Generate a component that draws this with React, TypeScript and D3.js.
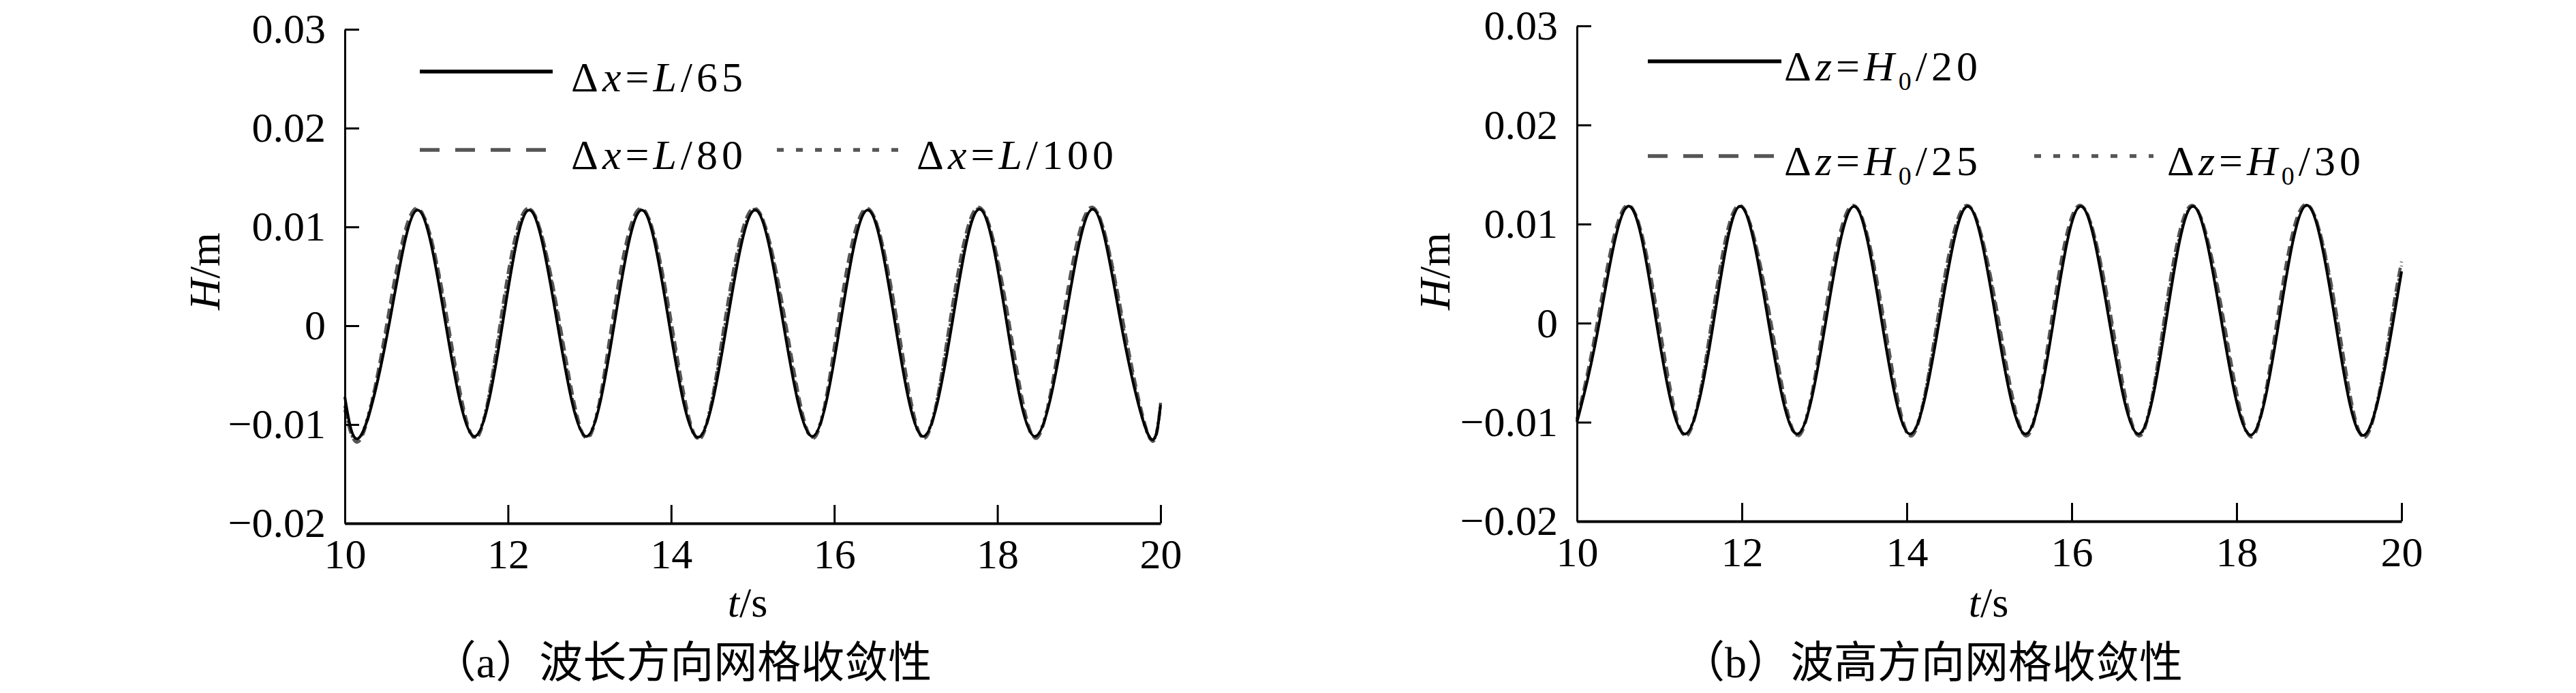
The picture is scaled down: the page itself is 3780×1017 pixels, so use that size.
import React, { useRef, useEffect } from 'react';
import * as d3 from 'd3';

type Pt = [number, number];

// axis ranges and ticks
const timeDomain: [number, number] = [10, 20];
const hDomain: [number, number] = [-0.02, 0.03];
const timeTicks = [10, 12, 14, 16, 18, 20];
const hTicks = [-0.02, -0.01, 0, 0.01, 0.02, 0.03];

// (a) wave length direction: troughs, zero crossings, crests
const waveL65: Pt[] = [
  [10.0, -0.0072], [10.19, -0.0112], [10.54, 0], [10.89, 0.0117], [11.24, 0],
  [11.59, -0.0112], [11.93, 0], [12.26, 0.0117], [12.61, 0],
  [12.96, -0.0112], [13.3, 0], [13.64, 0.0117], [13.98, 0],
  [14.33, -0.0113], [14.68, 0], [15.03, 0.0117], [15.38, 0],
  [15.73, -0.0112], [16.07, 0], [16.41, 0.0117], [16.75, 0],
  [17.09, -0.0112], [17.44, 0], [17.78, 0.0118], [18.12, 0],
  [18.46, -0.0112], [18.82, 0], [19.17, 0.0118], [19.52, 0],
  [19.86, -0.0112], [20.0, -0.008],
];
const waveL80: Pt[] = [
  [10.0, -0.0085], [10.2, -0.0114], [10.51, 0], [10.88, 0.0119], [11.27, 0],
  [11.6, -0.0114], [11.9, 0], [12.25, 0.0119], [12.64, 0],
  [12.97, -0.0114], [13.27, 0], [13.63, 0.0119], [14.01, 0],
  [14.34, -0.0115], [14.65, 0], [15.02, 0.0119], [15.41, 0],
  [15.74, -0.0114], [16.04, 0], [16.4, 0.0119], [16.78, 0],
  [17.1, -0.0114], [17.41, 0], [17.77, 0.012], [18.15, 0],
  [18.47, -0.0114], [18.79, 0], [19.16, 0.012], [19.55, 0],
  [19.87, -0.0114], [20.0, -0.0078],
];
const waveL100: Pt[] = [
  [10.0, -0.0081], [10.19, -0.0113], [10.52, 0], [10.89, 0.0118], [11.26, 0],
  [11.59, -0.0113], [11.91, 0], [12.26, 0.0118], [12.63, 0],
  [12.96, -0.0113], [13.28, 0], [13.64, 0.0118], [14.0, 0],
  [14.33, -0.0114], [14.66, 0], [15.03, 0.0118], [15.4, 0],
  [15.73, -0.0113], [16.05, 0], [16.41, 0.0118], [16.77, 0],
  [17.09, -0.0113], [17.42, 0], [17.78, 0.0119], [18.14, 0],
  [18.46, -0.0113], [18.8, 0], [19.17, 0.0119], [19.54, 0],
  [19.86, -0.0113], [20.0, -0.0079],
];

// (b) wave height direction
const waveH20: Pt[] = [
  [10.0, -0.01], [10.27, 0], [10.62, 0.0118], [10.965, 0],
  [11.31, -0.0112], [11.655, 0], [11.98, 0.0118], [12.325, 0],
  [12.67, -0.0112], [13.015, 0], [13.36, 0.0118], [13.7, 0],
  [14.04, -0.0112], [14.39, 0], [14.74, 0.0118], [15.09, 0],
  [15.44, -0.0112], [15.775, 0], [16.11, 0.0118], [16.46, 0],
  [16.81, -0.0112], [17.14, 0], [17.47, 0.0118], [17.82, 0],
  [18.17, -0.0113], [18.51, 0], [18.85, 0.0119], [19.2, 0],
  [19.55, -0.0113], [19.895, 0], [20.0, 0.0052],
];
const waveH25: Pt[] = [
  [10.0, -0.0097], [10.245, 0], [10.61, 0.0119], [10.995, 0],
  [11.32, -0.0114], [11.63, 0], [11.97, 0.0119], [12.355, 0],
  [12.68, -0.0114], [12.99, 0], [13.35, 0.0119], [13.73, 0],
  [14.05, -0.0114], [14.365, 0], [14.73, 0.0119], [15.12, 0],
  [15.45, -0.0114], [15.75, 0], [16.1, 0.0119], [16.49, 0],
  [16.82, -0.0114], [17.115, 0], [17.46, 0.0119], [17.85, 0],
  [18.18, -0.0115], [18.485, 0], [18.84, 0.012], [19.23, 0],
  [19.56, -0.0115], [19.87, 0], [20.0, 0.0062],
];
const waveH30: Pt[] = [
  [10.0, -0.0098], [10.255, 0], [10.62, 0.0118], [10.985, 0],
  [11.31, -0.0113], [11.64, 0], [11.98, 0.0118], [12.345, 0],
  [12.67, -0.0113], [13.0, 0], [13.36, 0.0118], [13.72, 0],
  [14.04, -0.0113], [14.375, 0], [14.74, 0.0118], [15.11, 0],
  [15.44, -0.0113], [15.76, 0], [16.11, 0.0118], [16.48, 0],
  [16.81, -0.0113], [17.125, 0], [17.47, 0.0118], [17.84, 0],
  [18.17, -0.0114], [18.495, 0], [18.85, 0.0119], [19.22, 0],
  [19.55, -0.0114], [19.88, 0], [20.0, 0.0058],
];

const legendA = ['65', '80', '100'];
const legendB = ['20', '25', '30'];
const captionA = '（a）波长方向网格收敛性';
const captionB = '（b）波高方向网格收敛性';

const SERIF = "'Liberation Serif', 'Times New Roman', serif";
const CJK = "'Liberation Serif', 'Noto Sans CJK SC', serif";
const GRAY = '#555555';

const lineStyles = [
  { stroke: '#000', width: 4, dash: null as string | null },
  { stroke: GRAY, width: 4.5, dash: '14,8' },
  { stroke: GRAY, width: 4.5, dash: '4,7' },
];
const legendDash = [null, '29,23', '10,18'];

type Frame = {
  left: number; right: number; top: number; bottom: number;
  ylabelX: number; tlabelX: number; captionX: number;
  legend: { x1: number; x2: number; y: number; tx: number; base: number }[];
};

const frameA: Frame = {
  left: 506, right: 1703, top: 43, bottom: 768,
  ylabelX: 300, tlabelX: 1097, captionX: 1001,
  legend: [
    { x1: 616, x2: 811, y: 105, tx: 838, base: 134 },
    { x1: 616, x2: 803, y: 220, tx: 838, base: 248 },
    { x1: 1140, x2: 1320, y: 220, tx: 1345, base: 248 },
  ],
};
const frameB: Frame = {
  left: 2314, right: 3524, top: 38, bottom: 765,
  ylabelX: 2105, tlabelX: 2918, captionX: 2835,
  legend: [
    { x1: 2418, x2: 2614, y: 90, tx: 2618, base: 118 },
    { x1: 2418, x2: 2614, y: 229, tx: 2618, base: 257 },
    { x1: 2985, x2: 3160, y: 229, tx: 3180, base: 257 },
  ],
};

function Panel({ frame, series, legend, kind, caption }: {
  frame: Frame; series: Pt[][]; legend: string[]; kind: 'a' | 'b'; caption: string;
}) {
  const ref = useRef<SVGGElement>(null);

  useEffect(() => {
    const g = d3.select(ref.current);
    g.selectAll('*').remove();

    const x = d3.scaleLinear().domain(timeDomain).range([frame.left, frame.right]);
    const y = d3.scaleLinear().domain(hDomain).range([frame.bottom, frame.top]);

    const line = d3.line<Pt>()
      .x(d => x(d[0]))
      .y(d => y(d[1]))
      .curve(d3.curveNatural);

    // gray curves first, solid black on top
    [2, 1, 0].forEach(i => {
      const s = lineStyles[i];
      g.append('path')
        .attr('d', line(series[i]))
        .attr('fill', 'none')
        .attr('stroke', s.stroke)
        .attr('stroke-width', s.width)
        .attr('stroke-dasharray', s.dash)
        .attr('stroke-linejoin', 'round');
    });

    const fmtY = (d: number) => (d === 0 ? '0' : d3.format('.2f')(d));

    const yAxis = g.append('g')
      .attr('transform', `translate(${frame.left},0)`)
      .call(d3.axisLeft(y).tickValues(hTicks).tickFormat(fmtY as any)
        .tickSizeInner(-21).tickSizeOuter(0).tickPadding(28));
    yAxis.select('.domain').attr('stroke-width', 3);
    yAxis.selectAll('.tick line').attr('stroke-width', 3);
    yAxis.selectAll('text')
      .attr('font-family', SERIF).attr('font-size', 62).attr('fill', '#000');

    const xAxis = g.append('g')
      .attr('transform', `translate(0,${frame.bottom})`)
      .call(d3.axisBottom(x).tickValues(timeTicks).tickFormat(d3.format('d') as any)
        .tickSizeInner(-27).tickSizeOuter(0).tickPadding(22));
    xAxis.select('.domain').attr('stroke-width', 4);
    xAxis.selectAll('.tick line').attr('stroke-width', 3);
    xAxis.selectAll('text')
      .attr('font-family', SERIF).attr('font-size', 62).attr('fill', '#000');
    g.selectAll('.domain, .tick line').attr('stroke', '#000');

    // legend
    frame.legend.forEach((p, i) => {
      const s = lineStyles[i];
      g.append('line')
        .attr('x1', p.x1).attr('x2', p.x2).attr('y1', p.y).attr('y2', p.y)
        .attr('stroke', s.stroke).attr('stroke-width', 5.5)
        .attr('stroke-dasharray', legendDash[i]);
      const t = g.append('text')
        .attr('x', p.tx).attr('y', p.base)
        .attr('font-family', SERIF).attr('font-size', 62)
        .attr('letter-spacing', 6).attr('fill', '#000');
      t.append('tspan').text('Δ');
      t.append('tspan').attr('font-style', 'italic').text(kind === 'a' ? 'x' : 'z');
      t.append('tspan').text('=');
      t.append('tspan').attr('font-style', 'italic').text(kind === 'a' ? 'L' : 'H');
      if (kind === 'b') {
        t.append('tspan').attr('font-size', 38).attr('dy', 14).text('0');
        t.append('tspan').attr('dy', -14).text('/' + legend[i]);
      } else {
        t.append('tspan').text('/' + legend[i]);
      }
    });

    // axis titles
    const yl = g.append('text')
      .attr('transform', `translate(${frame.ylabelX},398) rotate(-90)`)
      .attr('text-anchor', 'middle').attr('dominant-baseline', 'central')
      .attr('font-family', SERIF).attr('font-size', 64).attr('fill', '#000');
    yl.append('tspan').attr('font-style', 'italic').text('H');
    yl.append('tspan').text('/m');

    const tl = g.append('text')
      .attr('x', frame.tlabelX).attr('y', 905)
      .attr('text-anchor', 'middle')
      .attr('font-family', SERIF).attr('font-size', 62).attr('fill', '#000');
    tl.append('tspan').attr('font-style', 'italic').text('t');
    tl.append('tspan').text('/s');

    g.append('text')
      .attr('x', frame.captionX).attr('y', 994)
      .attr('text-anchor', 'middle')
      .attr('font-family', CJK).attr('font-size', 64).attr('fill', '#000')
      .text(caption);
  }, [frame, series, legend, kind, caption]);

  return <g ref={ref} />;
}

export default function App() {
  return (
    <svg
      width={3780}
      height={1017}
      viewBox="0 0 3780 1017"
      style={{ position: 'absolute', left: 0, top: 0, display: 'block', background: '#fff' }}
    >
      <rect width={3780} height={1017} fill="#fff" />
      <Panel frame={frameA} series={[waveL65, waveL80, waveL100]} legend={legendA} kind="a" caption={captionA} />
      <Panel frame={frameB} series={[waveH20, waveH25, waveH30]} legend={legendB} kind="b" caption={captionB} />
    </svg>
  );
}
